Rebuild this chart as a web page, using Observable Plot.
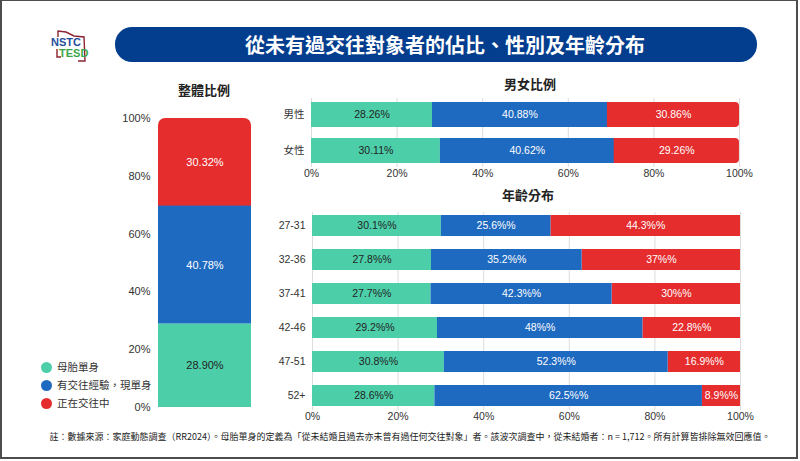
<!DOCTYPE html>
<html>
<head>
<meta charset="utf-8">
<script src="https://cdn.jsdelivr.net/npm/d3@7"></script>
<script src="https://cdn.jsdelivr.net/npm/@observablehq/plot@0.6"></script>
<style>
  html, body { margin: 0; padding: 0; background: #fff; }
  body { width: 800px; height: 461px; position: relative; overflow: hidden;
         font-family: "Liberation Sans", "Noto Sans CJK TC", sans-serif; color: #222; }
  .abs { position: absolute; }
  .frame { left: 0; top: 0; width: 798px; height: 459px; border: 2px solid #4d4d4d; border-top-width: 1px; box-sizing: border-box; }
  .banner { left: 115px; top: 27px; width: 642px; height: 35px; border-radius: 17px; background: #033d8e; }
  .banner-text { left: 245px; top: 27px; width: 400px; height: 35px; line-height: 35px; text-align: center;
                 color: #fff; font-weight: bold; font-size: 20px; font-family: "Noto Sans CJK TC", sans-serif; white-space: nowrap; }
  .sub { font-family: "Noto Sans CJK TC", sans-serif; font-weight: bold; font-size: 13px; color: #222; text-align: center; width: 120px; line-height: 16px; }
  .legend { left: 41px; font-size: 10.5px; line-height: 12px; font-family: "Noto Sans CJK TC", sans-serif; color: #333; white-space: nowrap; }
  .legend span.dot { display: inline-block; width: 11px; height: 11px; border-radius: 50%; vertical-align: -2px; margin-right: 5px; }
  .note { left: 15px; width: 790px; top: 431px; text-align: center; font-size: 9px; line-height: 12px; color: #222;
          font-family: "Noto Sans CJK TC", sans-serif; white-space: nowrap; }
</style>
</head>
<body>
<div class="abs frame"></div>
<svg class="abs" style="left:48px;top:28px" width="46" height="36" viewBox="0 0 46 36">
  <path d="M10 9 L10 3 L18 4 L26 8 L36 9 L37 33 L30 33 M9 21 L9 29 L13 29" fill="none" stroke="#8b2332" stroke-width="1.4"/>
  <text x="3" y="18" font-family="Liberation Sans, sans-serif" font-weight="bold" font-size="11" fill="#1f4e9c">NSTC</text>
  <text x="11" y="29" font-family="Liberation Sans, sans-serif" font-weight="bold" font-size="11" fill="#3aa64a">TESD</text>
</svg>
<div class="abs banner"></div>
<div class="abs banner-text">從未有過交往對象者的佔比、性別及年齡分布</div>
<div class="abs sub" style="left:144px;top:82px">整體比例</div>
<div class="abs sub" style="left:470px;top:76px">男女比例</div>
<div class="abs sub" style="left:468px;top:187px">年齡分布</div>
<div id="legend"></div>
<div id="overall" class="abs" style="left:100px;top:100px"></div>
<div id="gender" class="abs" style="left:270px;top:90px"></div>
<div id="age" class="abs" style="left:270px;top:200px"></div>
<div class="abs note">註：數據來源：家庭動態調查（RR2024）。母胎單身的定義為「從未結婚且過去亦未曾有過任何交往對象」者。該波次調查中，從未結婚者：n = 1,712。所有計算皆排除無效回應值。</div>

<script>
// ---------- data ----------
const seriesNames = ["母胎單身", "有交往經驗，現單身", "正在交往中"];
const seriesColors = ["#4ccfa9", "#1f6ac1", "#e52d2e"];
const labelColors = ["#222222", "#ffffff", "#ffffff"];

const overallValues = [28.90, 40.78, 30.32];

const genderCats = ["男性", "女性"];
const genderMale = [28.26, 40.88, 30.86];
const genderFemale = [30.11, 40.62, 29.26];

const ageCats = ["27-31", "32-36", "37-41", "42-46", "47-51", "52+"];
const age2731 = [30.1, 25.6, 44.3];
const age3236 = [27.8, 35.2, 37];
const age3741 = [27.7, 42.3, 30];
const age4246 = [29.2, 48, 22.8];
const age4751 = [30.8, 52.3, 16.9];
const age52 = [28.6, 62.5, 8.9];

const pctTicks = [0, 20, 40, 60, 80, 100];

// ---------- helpers ----------
function stackRows(cats, valueArrays, labelFn) {
  const rows = [];
  cats.forEach((c, i) => {
    let acc = 0;
    valueArrays[i].forEach((v, j) => {
      rows.push({cat: c, s: j, a: acc, b: acc + v, mid: acc + v / 2, label: labelFn(v)});
      acc += v;
    });
  });
  return rows;
}
const FONT = "'Liberation Sans', 'Noto Sans CJK TC', sans-serif";

// ---------- legend ----------
const legend = document.getElementById("legend");
const legendTops = [361, 379, 397];
seriesNames.forEach((n, i) => {
  const d = document.createElement("div");
  d.className = "abs legend";
  d.style.top = legendTops[i] + "px";
  d.innerHTML = `<span class="dot" style="background:${seriesColors[i]}"></span>${n}`;
  legend.appendChild(d);
});

// ---------- overall (vertical stacked) ----------
const overallRows = stackRows(["整體"], [overallValues], v => v.toFixed(2) + "%");
const overallMarks = [];
[2, 0, 1].forEach(s => {
  overallMarks.push(Plot.barY(overallRows.filter(d => d.s === s), {
    x: "cat", y1: "a", y2: "b", fill: seriesColors[s],
    rx: s === 2 ? 7 : 0, insetBottom: s === 2 ? -12 : 0
  }));
});
[0, 1, 2].forEach(s => {
  overallMarks.push(Plot.text(overallRows.filter(d => d.s === s), {
    x: "cat", y: "mid", text: "label", fill: labelColors[s], fontSize: 11
  }));
});
document.getElementById("overall").appendChild(Plot.plot({
  width: 160, height: 319,
  marginLeft: 58, marginRight: 9, marginTop: 18, marginBottom: 12,
  style: {fontFamily: FONT, fontSize: "11px", color: "#333", background: "transparent"},
  x: {domain: ["整體"], padding: 0, axis: null},
  y: {domain: [0, 100], ticks: pctTicks, tickFormat: d => d + "%", tickSize: 0, tickPadding: 8, label: null},
  marks: overallMarks
}));

// ---------- horizontal stacked charts ----------
function hChart(el, cats, rows, opts) {
  const marks = [Plot.gridX(pctTicks, {stroke: "#dcdcdc", strokeOpacity: 1})];
  [2, 0, 1].forEach(s => {
    marks.push(Plot.barX(rows.filter(d => d.s === s), {
      y: "cat", x1: "a", x2: "b", fill: seriesColors[s],
      rx: s === 2 ? opts.rx : 0, insetLeft: s === 2 && opts.rx ? -8 : 0
    }));
  });
  [0, 1, 2].forEach(s => {
    marks.push(Plot.text(rows.filter(d => d.s === s), {
      x: "mid", y: "cat", text: "label", fill: labelColors[s], fontSize: 10.5
    }));
  });
  document.getElementById(el).appendChild(Plot.plot({
    width: 500, height: opts.height,
    marginLeft: opts.ml, marginRight: 500 - opts.ml - 428, marginTop: opts.mt, marginBottom: 16,
    style: {fontFamily: FONT, fontSize: "10.5px", color: "#333", background: "transparent"},
    x: {domain: [0, 100], ticks: pctTicks, tickFormat: d => d + "%", tickSize: 0, tickPadding: 2, label: null},
    y: {domain: cats, paddingInner: opts.pi, paddingOuter: 0.1, tickSize: 0, tickPadding: 7, label: null},
    marks
  }));
}

const genderRows = stackRows(genderCats, [genderMale, genderFemale], v => v.toFixed(2) + "%");
hChart("gender", genderCats, genderRows, {height: 93, ml: 41, mt: 8, pi: 0.3, rx: 4});

const ageRows = stackRows(ageCats, [age2731, age3236, age3741, age4246, age4751, age52], v => v + "%%");
hChart("age", ageCats, ageRows, {height: 226, ml: 42, mt: 12, pi: 0.38, rx: 0});
</script>
</body>
</html>
